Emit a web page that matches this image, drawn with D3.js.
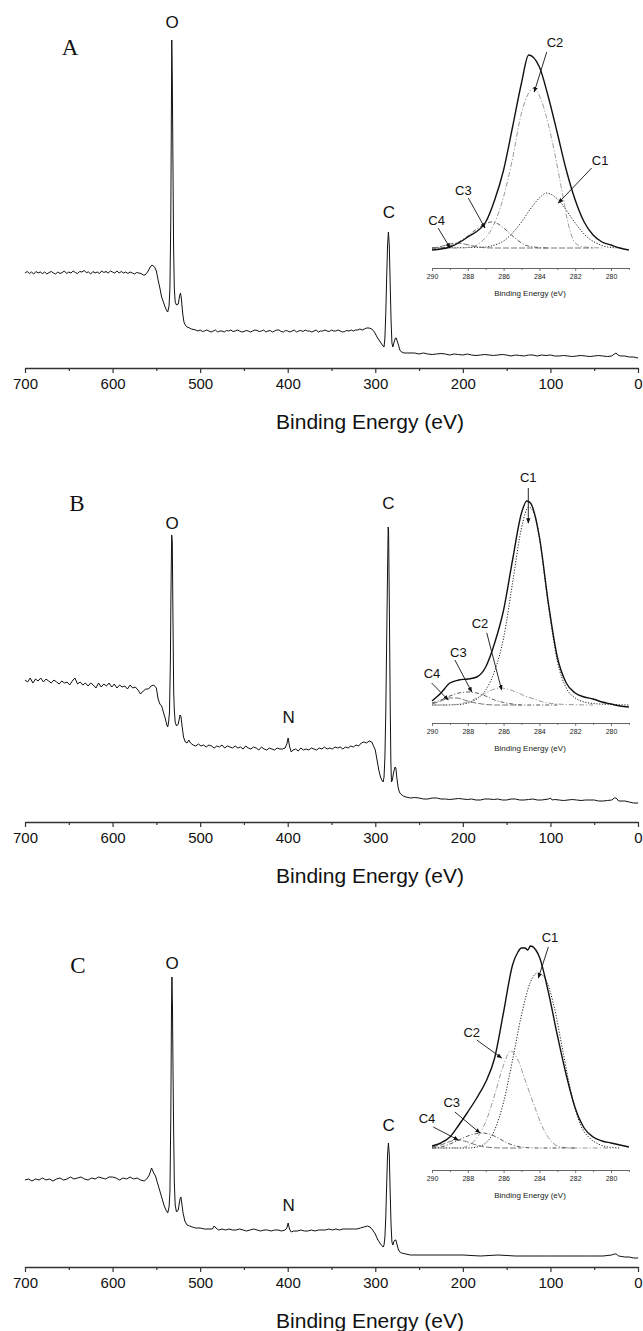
<!DOCTYPE html>
<html>
<head>
<meta charset="utf-8">
<script src="https://cdn.jsdelivr.net/npm/d3@7"></script>
<style>
  body { margin: 0; background: #fff; }
  svg { display: block; font-family: Arial, "Liberation Sans", sans-serif; }
  .spec { fill: none; stroke: #111; stroke-width: 1; stroke-linejoin: round; }
  .env { fill: none; stroke: #111; stroke-width: 1.4; }
</style>
</head>
<body>
<svg id="chart" width="643" height="1331"></svg>
<script>
// ---- survey spectra, [binding energy eV, intensity a.u.] ----
const surveyA = [[700,95],[697.5,96.5],[695,94.5],[692.5,96],[690,94],[687.5,96.5],[685,95],[682.5,96],[680,94.5],[677.5,96],[675,94],[672.5,95.5],[670,96.5],[667.5,95],[665,94],[662.5,96],[660,94.5],[657.5,95.5],[655,97],[652.5,94.5],[650,96],[647.5,95],[645,97],[642.5,95.5],[640,94.5],[637.5,96.5],[635,96],[632.5,97.5],[630,95.5],[627.5,96],[625,94],[622.5,96.5],[620,95],[617.5,96],[615,94.5],[612.5,97],[610,95.5],[607.5,96.5],[605,95],[602.5,97],[600,96],[597.5,95],[595,97],[592.5,95],[590,96.5],[587.5,95],[585,96],[582.5,94.5],[580,96],[577.5,95],[575,94],[572.5,95.5],[570,95],[567.5,94.5],[565,93],[563,93],[560,96],[557,101],[555,103],[552,101],[550,97],[548,88],[546,80],[544,71],[542,66],[540,61],[538,57],[537,56],[535.5,62],[534.5,80],[533.5,150],[533,230],[532.4,328],[531.8,290],[531,200],[530.3,120],[529.5,80],[528.5,66],[527,63],[525,64],[523.5,72],[522.5,75],[521.5,70],[520,55],[518.5,46],[517,43],[515,41],[512,40],[510,39],[505,38],[502.5,37],[500,38],[497.5,36.5],[495,37],[492.5,38],[490,37],[487.5,36],[485,37],[482.5,38],[480,36],[477.5,37],[475,37],[472.5,36],[470,37.5],[467.5,37],[465,38],[462.5,36.5],[460,37],[457.5,38],[455,37],[452.5,36],[450,36.5],[447.5,37.5],[445,37],[442.5,36],[440,37],[437.5,38],[435,37.5],[432.5,36.5],[430,37],[427.5,38],[425,36],[422.5,37],[420,37.5],[417.5,36],[415,37],[412.5,38],[410,38],[407.5,36.5],[405,36],[402.5,37.5],[400,37],[397.5,36],[395,37],[392.5,38],[390,36],[387.5,37],[385,37.5],[382.5,36.5],[380,38],[377.5,37],[375,37],[372.5,36],[370,37],[367.5,38],[365,36],[362.5,37],[360,37],[357.5,38],[355,37],[352.5,36.5],[350,38],[347.5,37],[345,37],[342.5,38],[340,37],[337.5,36],[335,36.5],[332.5,37.5],[330,37],[327.5,38],[325,37],[322.5,38],[320,38],[317.5,39],[315,38],[312.5,39],[310,40],[307,40],[304,39],[301,36],[298,31],[295,27],[292,23],[290,21],[289,30],[288,55],[287,90],[286,122],[285,136],[284,122],[283,85],[282,48],[281,25],[280,21],[278.5,26],[277,30],[276,30],[275,27],[273.5,23],[272,18],[270,16],[267,15],[263,15],[255,15],[250,14],[245,15],[240,14],[235,13.5],[230,14],[225,14.5],[220,14],[215,13],[210,14],[205,13.5],[200,13],[195,14],[190,13],[185,12.5],[180,13],[175,13.5],[170,13],[165,12.5],[160,13],[155,13.5],[150,13],[145,12],[140,13],[135,12.5],[130,12],[125,13],[120,13],[115,12],[110,13],[105,12.5],[100,13],[95,12],[90,12],[85,12.5],[80,12],[75,11.5],[70,12],[65,12.5],[60,12],[55,11.5],[50,12],[45,12.5],[40,12],[35,11.5],[30,12],[27,14],[25,15],[23,13],[20,12],[15,12],[10,11],[5,11],[0,10]];

const surveyB = [[700,142],[697,140],[694,144],[691,139],[688,143],[685,141],[682,144],[679,140],[676,143],[673,141],[670,139],[667,142],[664,140],[661,138],[658,141],[655,139],[652,140],[649,137],[646,141],[643,144],[640,138],[637,140],[634,137],[631,139],[628,136],[625,139],[622,137],[619,134],[616,139],[613,135],[610,138],[607,136],[604,139],[601,135],[598,138],[595,134],[592,137],[589,135],[586,136],[583,133],[580,137],[577,134],[574,135],[571,132],[568,128],[565,131],[562,133],[559,133],[556,136],[553,137],[550,134],[548,123],[546,118],[544,116],[542,110],[540,104],[538,97],[537,95],[536,100],[535,110],[534,160],[533.3,230],[532.5,287],[531.8,280],[531,200],[530.2,130],[529.5,112],[528.5,100],[527,96],[525,98],[523,107],[522,106],[520.5,95],[519,85],[517,80],[515,79],[513,82],[511,79],[508,77],[505,76],[502,78],[499,76],[496,77],[493,75],[490,77],[487,76],[484,74],[481,76],[478,75],[475,77],[472,74],[469,76],[466,75],[463,74],[460,76],[457,74],[454,75],[451,73],[448,76],[445,74],[442,73],[439,75],[436,74],[433,72],[430,75],[427,73],[424,72],[421,74],[418,73],[415,72],[412,74],[409,73],[406,73],[403,74],[401,78],[399.5,84],[398,76],[396,70],[394,72],[391,73],[388,71],[385,74],[382,72],[379,73],[376,72],[373,74],[370,73],[367,72],[364,74],[361,73],[358,75],[355,73],[352,74],[349,73],[346,75],[343,74],[340,75],[337,73],[334,75],[331,74],[328,76],[325,75],[322,77],[319,76],[316,79],[313,80],[310,79],[307,81],[304,80],[302,76],[300,72],[298,62],[296,52],[294,45],[292,41],[291,40],[290,45],[289,65],[288,110],[287,180],[286,250],[285.3,295],[284.8,290],[284,220],[283,120],[282.2,60],[281.5,40],[280.5,42],[279,50],[277.5,55],[276.5,54],[275.5,45],[274,35],[272.5,30],[271,28],[268,26],[265,25],[260,24],[255,24.5],[250,24],[245,23],[240,23],[235,24],[230,24],[225,23],[220,23],[215,22.5],[210,23],[205,23.5],[200,23],[195,22.5],[190,23],[185,22],[180,22],[175,23],[170,23],[165,22.5],[160,23],[155,22],[150,22],[145,23],[140,23],[135,22],[130,22],[125,22.5],[120,23],[115,22],[110,22],[102,23],[100,24],[98,22],[95,22.5],[90,22],[85,21.5],[80,22],[75,22.5],[70,22],[65,21.5],[60,22],[55,22],[50,22],[45,21],[40,21],[35,21.5],[30,22],[27,24],[25,24],[22,21],[15,21],[10,20],[5,19],[0,19]];

const surveyC = [[700,87],[696,88],[692,86],[688,88],[684,87],[680,89],[676,87],[672,88],[668,86],[664,88],[660,89],[656,87],[652,88],[648,90],[644,88],[640,89],[636,90],[632,88],[628,87],[624,89],[620,88],[616,90],[612,89],[608,88],[604,90],[600,90],[596,89],[592,87],[588,89],[584,88],[580,90],[576,88],[572,89],[568,87],[564,86],[561,88],[558,92],[555.5,99],[553,94],[551,91],[549,85],[547,79],[545,73],[543,67],[541,61],[539,57],[537,54],[535.5,60],[534.5,75],[533.5,150],[532.7,260],[532.2,290],[531.6,260],[531,200],[530.3,140],[529.5,85],[528.5,62],[527,55],[525,57],[523,68],[522,70],[521,64],[519.5,54],[517.5,46],[515,42],[512,41],[509,40],[505,39],[500,39],[495,38],[490,38],[486,38],[484,41],[482,39],[479,37],[475,38],[471,37],[467,38],[463,37],[459,37],[455,38],[451,37],[447,36],[443,37],[439,38],[435,37],[431,36],[427,37],[423,37],[419,36],[415,37],[411,37],[407,36],[403,37],[401,39],[399.5,44],[398,38],[396,35],[393,36],[389,36],[385,37],[381,36],[377,36],[373,37],[369,36],[365,37],[361,37],[357,37],[353,38],[349,37],[345,38],[341,37],[337,38],[333,38],[329,38],[325,38],[321,38],[317,39],[313,40],[309,41],[306,40],[303,37],[300,33],[297,27],[294,23],[291,20],[290,22],[289,30],[288,50],[287,82],[286,112],[285,124],[284,112],[283,75],[282,42],[281,25],[280,22],[279,25],[277.5,27],[276.5,27],[275,22],[273.5,17],[272,15],[270,14],[265,13],[260,12],[250,12],[240,12],[220,12],[200,12],[180,11],[160,12],[140,11],[120,11],[100,11],[80,11],[60,11],[40,11],[30,12],[27,13],[25,13],[22,11],[15,10],[10,10],[5,9],[0,9]];

// element labels: [text, eV, height]
const peakLabelsA = [["O",532,346],["C",284.5,156]];
const peakLabelsB = [["O",532,299],["N",399,105],["C",285,319]];
const peakLabelsC = [["O",532,304],["N",399,62],["C",284.7,142]];

// ---- C1s insets: envelope + fitted components, [eV, intensity] ----
const envA = [[290,18],[289,21],[288,31],[287,46],[286.5,68],[286,98],[285.5,141],[285,185],[284.6,213],[284,201],[283.5,171],[283,135],[282.5,98],[282,68],[281.5,46],[281,33],[280.5,26],[280,23],[279.5,20],[279,18]];
const c1A = [[290,20],[287,21],[286.5,23],[286,27],[285.5,35],[285,46],[284.5,59],[284,70],[283.6,75],[283.2,72],[282.7,63],[282.2,50],[281.7,38],[281.2,29],[280.7,24],[280.2,21],[279.5,20]];
const c2A = [[290,20],[288.5,20],[287.8,21],[287.2,27],[286.7,38],[286.1,65],[285.55,105],[285,155],[284.6,175],[284.3,180],[283.9,168],[283.3,128],[282.75,78],[282.4,45],[282,25],[281.5,21],[280.5,20]];
const c3A = [[290,20],[289.5,20],[289,22],[288.5,26],[288,32],[287.5,39],[287,44],[286.7,46],[286.3,44],[285.8,37],[285.3,29],[284.8,23],[284.3,21],[283.5,20]];
const c4A = [[290,20],[289.5,21.5],[289,24],[288.6,25],[288.2,24],[287.7,22],[287.2,20.5],[286.5,20],[284,20],[281,20]];

const envB = [[290,22],[289.5,30],[289,40],[288.5,43],[288,44],[287.5,46],[287,56],[286.5,80],[286,113],[285.5,163],[285,210],[284.7,222],[284.5,220],[284,186],[283.5,120],[283,66],[282.5,40],[282,30],[281.5,26],[281,24],[280.5,21],[280,19],[279.5,17],[279,16]];
const c1B = [[290,18],[289.5,18],[288.5,18.5],[288,20],[287.5,24],[287,33],[286.5,52],[286,85],[285.5,140],[285,195],[284.6,216],[284.2,205],[284,185],[283.5,118],[283,62],[282.5,35],[282,25],[281.5,21],[281,19.5],[280,18.5],[279,18]];
const c2B = [[290,18],[289,18],[288.5,19],[288,21],[287.5,25],[287,30],[286.5,34],[286.2,35],[285.8,34],[285.3,31],[284.8,27],[284.3,24],[283.8,21],[283.3,19.5],[282.5,18.5],[281,18]];
const c3B = [[290,20],[289.5,23],[289,27],[288.5,30],[288,31],[287.5,30],[287,27],[286.5,23],[286,20.5],[285.5,19],[285,18],[283,18]];
const c4B = [[290,19],[289.5,22],[289,25],[288.6,25],[288.2,23],[287.7,20.5],[287.2,19],[286.5,18],[285,18]];

const envC = [[290,24],[289.5,27],[289,33],[288.5,45],[288,58],[287.5,72],[287,88],[286.5,112],[286,158],[285.5,205],[285.2,218],[285,222],[284.8,222],[284.65,220],[284.5,224],[284.2,220],[284,213],[283.5,178],[283,135],[282.5,95],[282,62],[281.5,42],[281,33],[280.5,29],[280,27],[279.5,25],[279,23]];
const c1C = [[290,22],[288,22],[287.5,23],[287,27],[286.5,40],[286,68],[285.5,110],[285,155],[284.5,188],[284.1,197],[283.7,192],[283.2,165],[282.7,120],[282.2,75],[281.7,45],[281.2,32],[280.7,26],[280.2,23],[279.5,22]];
const c2C = [[290,22],[288.5,22],[288,24],[287.5,32],[287,48],[286.5,75],[286,105],[285.6,119],[285.2,110],[284.8,90],[284.3,65],[283.8,42],[283.3,28],[282.8,23],[282,22],[280,22]];
const c3C = [[290,22],[289.5,23],[289,26],[288.5,30],[288,34],[287.5,36.5],[287.2,37],[286.8,36],[286.3,32],[285.8,27],[285.3,24],[284.8,22.5],[284,22],[282,22]];
const c4C = [[290,23],[289.5,25],[289,28.5],[288.6,30],[288.2,29],[287.7,26],[287.2,23.5],[286.7,22.5],[286,22],[285,22]];

// component callouts: [text, labelEV, labelH, fromEV, fromH, toEV, toH]
const calloutsA = [["C2",283.13,226,283.59,216,284.29,176],["C1",280.61,108,281.08,100,282.94,65],["C3",288.25,78,287.97,70,287.04,40],["C4",289.74,48,289.66,40,288.99,20]];
const calloutsB = [["C1",284.62,246,284.62,235,284.62,200],["C2",287.32,100,286.94,90,286.11,33],["C3",288.53,71,288.72,63,287.78,31],["C4",290.0,50,290.02,40,289.09,23]];
const calloutsC = [["C1",283.41,233,283.5,223,284.06,192],["C2",287.78,138,287.5,130,286.11,112],["C3",288.9,68,288.72,58,287.32,37],["C4",290.28,52,289.93,43,288.53,30]];

const majorTicks = [700,600,500,400,300,200,100,0];
const minorTicks = [650,550,450,350,250,150,50];
const insetMajor = [290,288,286,284,282,280];
const insetMinor = [289,287,285,283,281,279];

const panels = [
  {letter:"A", letterX:70, letterY:47, axisY:368, insetY:268, survey:surveyA, labels:peakLabelsA,
   env:envA, comps:[c1A,c2A,c3A,c4A], callouts:calloutsA},
  {letter:"B", letterX:77, letterY:503, axisY:822, insetY:723, survey:surveyB, labels:peakLabelsB,
   env:envB, comps:[c1B,c2B,c3B,c4B], callouts:calloutsB},
  {letter:"C", letterX:78, letterY:965, axisY:1267, insetY:1170, survey:surveyC, labels:peakLabelsC,
   env:envC, comps:[c1C,c2C,c3C,c4C], callouts:calloutsC}
];

// line style for C1..C4
const compStyles = [
  {stroke:"#222", dash:"1.2,1.6", width:1},
  {stroke:"#9a9a9a", dash:"5,2,1.2,2", width:1},
  {stroke:"#444", dash:"4,2,1,2", width:0.9},
  {stroke:"#666", dash:"6,2", width:0.9}
];

const svg = d3.select("#chart");
svg.append("rect").attr("width",643).attr("height",1331).attr("fill","#fff");

svg.append("defs").append("marker")
  .attr("id","arrow").attr("viewBox","0 0 10 10").attr("refX",9).attr("refY",5)
  .attr("markerWidth",6).attr("markerHeight",6).attr("orient","auto-start-reverse")
  .append("path").attr("d","M0,1 L10,5 L0,9 z").attr("fill","#111");

const x = d3.scaleLinear().domain([700,0]).range([25,638]);
const xi = d3.scaleLinear().domain([290,279]).range([432,628.9]);

panels.forEach(p => {
  const g = svg.append("g");
  const y = d3.scaleLinear().domain([0,360]).range([p.axisY, p.axisY - 360]);

  // minor ticks first, then major axis with labels
  g.append("g").attr("transform",`translate(0,${p.axisY})`)
    .call(d3.axisBottom(x).tickValues(minorTicks).tickSize(3).tickFormat(""))
    .call(a => a.select(".domain").remove())
    .selectAll("line").attr("stroke","#333").attr("stroke-width",1.2);
  const ax = g.append("g").attr("transform",`translate(0,${p.axisY})`)
    .call(d3.axisBottom(x).tickValues(majorTicks).tickSize(5).tickSizeOuter(0).tickPadding(5));
  ax.select(".domain").attr("stroke","#333").attr("stroke-width",1.3);
  ax.selectAll("line").attr("stroke","#333").attr("stroke-width",1.2);
  ax.selectAll("text").attr("font-size","15px").attr("fill","#111")
    .attr("font-family","Arial, 'Liberation Sans', sans-serif");

  g.append("text").attr("x",370).attr("y",p.axisY + 54).attr("dy","0.35em")
    .attr("text-anchor","middle").attr("font-size","21px").attr("fill","#111")
    .text("Binding Energy (eV)");

  g.append("text").attr("x",p.letterX).attr("y",p.letterY).attr("dy","0.35em")
    .attr("text-anchor","middle").attr("font-family","'Liberation Serif', 'Times New Roman', serif")
    .attr("font-size","23px").attr("fill","#111").text(p.letter);

  const line = d3.line().x(d => x(d[0])).y(d => y(d[1]));
  g.append("path").datum(p.survey).attr("class","spec").attr("d",line);

  g.selectAll(null).data(p.labels).join("text")
    .attr("x",d => x(d[1])).attr("y",d => y(d[2])).attr("dy","0.35em")
    .attr("text-anchor","middle").attr("font-size","17px").attr("fill","#111")
    .text(d => d[0]);

  // ---- inset ----
  const yi = d3.scaleLinear().domain([0,250]).range([p.insetY, p.insetY - 250]);
  g.append("g").attr("transform",`translate(0,${p.insetY})`)
    .call(d3.axisBottom(xi).tickValues(insetMinor).tickSize(2).tickFormat(""))
    .call(a => a.select(".domain").remove())
    .selectAll("line").attr("stroke","#555").attr("stroke-width",0.8);
  const ai = g.append("g").attr("transform",`translate(0,${p.insetY})`)
    .call(d3.axisBottom(xi).tickValues(insetMajor).tickSize(3).tickSizeOuter(0).tickPadding(3));
  ai.select(".domain").attr("stroke","#555").attr("stroke-width",0.9);
  ai.selectAll("line").attr("stroke","#555").attr("stroke-width",0.8);
  ai.selectAll("text").attr("font-size","7px").attr("fill","#222")
    .attr("font-family","Arial, 'Liberation Sans', sans-serif");
  g.append("text").attr("x",530).attr("y",p.insetY + 25).attr("dy","0.35em")
    .attr("text-anchor","middle").attr("font-size","8px").attr("fill","#222")
    .text("Binding Energy (eV)");

  const iline = d3.line().x(d => xi(d[0])).y(d => yi(d[1])).curve(d3.curveMonotoneX);
  p.comps.forEach((c,i) => {
    const s = compStyles[i];
    g.append("path").datum(c).attr("d",iline).attr("fill","none")
      .attr("stroke",s.stroke).attr("stroke-width",s.width).attr("stroke-dasharray",s.dash);
  });
  g.append("path").datum(p.env).attr("class","env").attr("d",iline);

  p.callouts.forEach(c => {
    g.append("line")
      .attr("x1",xi(c[3])).attr("y1",yi(c[4])).attr("x2",xi(c[5])).attr("y2",yi(c[6]))
      .attr("stroke","#111").attr("stroke-width",0.9).attr("marker-end","url(#arrow)");
    g.append("text").attr("x",xi(c[1])).attr("y",yi(c[2])).attr("dy","0.35em")
      .attr("text-anchor","middle").attr("font-size","13px").attr("fill","#111").text(c[0]);
  });
});
</script>
</body>
</html>
